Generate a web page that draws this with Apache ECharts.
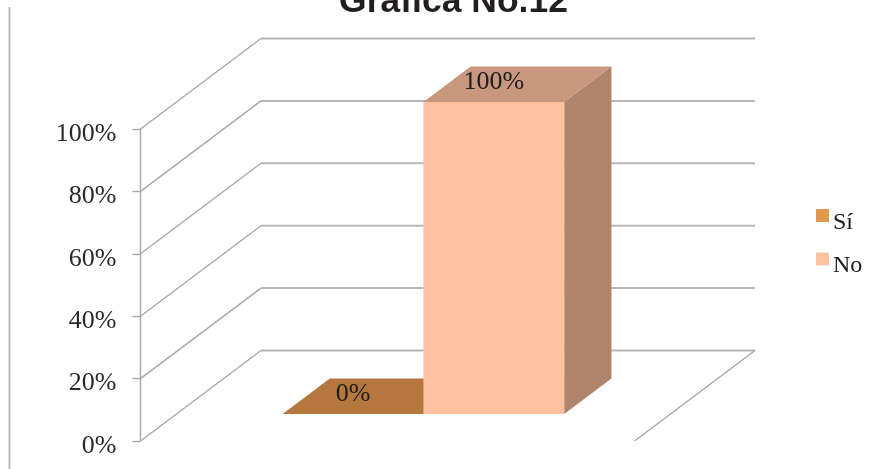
<!DOCTYPE html>
<html>
<head>
<meta charset="utf-8">
<style>html,body{margin:0;padding:0;background:#fff}#c{width:875px;height:469px}</style>
<script src="https://cdn.jsdelivr.net/npm/echarts@6/dist/echarts.min.js"></script>
</head>
<body>
<div id="c"></div>
<script>
var titleText = 'Gráfica No.12';
var categories = [''];
var seriesNames = ['Sí', 'No'];
var siValues = [0];
var noValues = [100];
var tickValues = [0, 20, 40, 60, 80, 100];

var WALL_DX = 120.5, WALL_DY = -90.5;
var BAR_FRONT = 0.298, BAR_BACK = 0.69, BAR_BAND = 0.285;
var GRID_COLOR = '#b6b6b6', EDGE_COLOR = '#a8a8a8', SERIF = '"Liberation Serif", serif';

function wallItem(params, api) {
  var v = api.value(0), cs = params.coordSys;
  var y = api.coord([0, v])[1];
  var left = cs.x, right = cs.x + cs.width;
  var kids = [
    { type: 'line',
      shape: { x1: left, y1: y, x2: left + WALL_DX, y2: y + WALL_DY },
      style: { stroke: EDGE_COLOR, lineWidth: 1.4 } },
    { type: 'line',
      shape: { x1: left + WALL_DX, y1: y + WALL_DY, x2: right + WALL_DX, y2: y + WALL_DY },
      style: { stroke: GRID_COLOR, lineWidth: 2 } }
  ];
  if (v === 0) {
    kids.push({
      type: 'line',
      shape: { x1: right, y1: y, x2: right + WALL_DX, y2: y + WALL_DY },
      style: { stroke: EDGE_COLOR, lineWidth: 1.4 }
    });
  }
  return { type: 'group', children: kids };
}

function barRenderer(seriesIdx, colors) {
  return function (params, api) {
    var val = api.value(1);
    var c = api.coord([0, val]), b = api.coord([0, 0]);
    var w = api.size([1, 0])[0] * BAR_BAND;
    var fx = c[0] + (seriesIdx - 1) * w + WALL_DX * BAR_FRONT;
    var fb = b[1] + WALL_DY * BAR_FRONT;
    var ft = c[1] + WALL_DY * BAR_FRONT;
    var dx = WALL_DX * (BAR_BACK - BAR_FRONT), dy = WALL_DY * (BAR_BACK - BAR_FRONT);
    return {
      type: 'group',
      children: [
        { type: 'polygon',
          shape: { points: [[fx + w, ft], [fx + w + dx, ft + dy], [fx + w + dx, fb + dy], [fx + w, fb]] },
          style: { fill: colors.side } },
        { type: 'polygon',
          shape: { points: [[fx, ft], [fx + dx, ft + dy], [fx + w + dx, ft + dy], [fx + w, ft]] },
          style: { fill: colors.top } },
        { type: 'rect',
          shape: { x: fx, y: ft, width: w, height: fb - ft },
          style: { fill: colors.front } },
        { type: 'text',
          style: {
            x: fx + w / 2, y: ft + dy / 2 - 2,
            text: val + '%', align: 'center', verticalAlign: 'middle',
            font: '26px ' + SERIF, fill: '#1c1c1c'
          } }
      ]
    };
  };
}

var chart = echarts.init(document.getElementById('c'), null, { renderer: 'canvas' });
chart.setOption({
  animation: false,
  backgroundColor: '#fff',
  graphic: [{
    type: 'line', silent: true,
    shape: { x1: 9.5, y1: 7, x2: 9.5, y2: 469 },
    style: { stroke: '#bcbcbc', lineWidth: 2 }
  }],
  title: {
    text: titleText,
    left: 448.5, top: -21,
    textAlign: 'center',
    textStyle: { fontFamily: '"Liberation Sans", sans-serif', fontWeight: 'bold', fontSize: 35.5, color: '#231f20' }
  },
  legend: {
    orient: 'vertical', left: 811, top: 204,
    itemWidth: 13, itemHeight: 13, itemGap: 18, icon: 'rect',
    data: seriesNames,
    formatter: function (n) { return '{a|' + n + '}'; },
    textStyle: { rich: { a: { fontFamily: SERIF, fontSize: 24, color: '#1c1c1c', padding: [14, 0, 0, -1] } } }
  },
  grid: { left: 140.5, right: 240.5, top: 129, bottom: 28 },
  xAxis: { type: 'category', data: categories, axisLine: { show: false }, axisTick: { show: false }, axisLabel: { show: false } },
  yAxis: {
    type: 'value', min: 0, max: 100, interval: 20,
    splitLine: { show: false },
    axisLine: { show: true, lineStyle: { color: EDGE_COLOR, width: 1.4 } },
    axisTick: { show: true, length: 8, lineStyle: { color: EDGE_COLOR, width: 1.4 } },
    axisLabel: {
      formatter: function (v) { return '{a|' + v + '%}'; }, margin: 24,
      rich: { a: { fontFamily: SERIF, fontSize: 26, color: '#2a2a2a', padding: [10, 0, 0, 0] } }
    }
  },
  series: [
    { type: 'custom', name: 'walls', data: tickValues.map(function (t) { return [t]; }), renderItem: wallItem, encode: { y: 0 }, z: 1, silent: true },
    { type: 'custom', name: seriesNames[0], itemStyle: { color: '#e0984e' },
      data: siValues.map(function (v, i) { return [i, v]; }), encode: { x: 0, y: 1 }, z: 2,
      renderItem: barRenderer(0, { front: '#b5773d', side: '#b5773d', top: '#b5773d' }) },
    { type: 'custom', name: seriesNames[1], itemStyle: { color: '#fcc2a2' },
      data: noValues.map(function (v, i) { return [i, v]; }), encode: { x: 0, y: 1 }, z: 3,
      renderItem: barRenderer(1, { front: '#fdc1a0', side: '#ae846a', top: '#c9977e' }) }
  ]
});
</script>
</body>
</html>
